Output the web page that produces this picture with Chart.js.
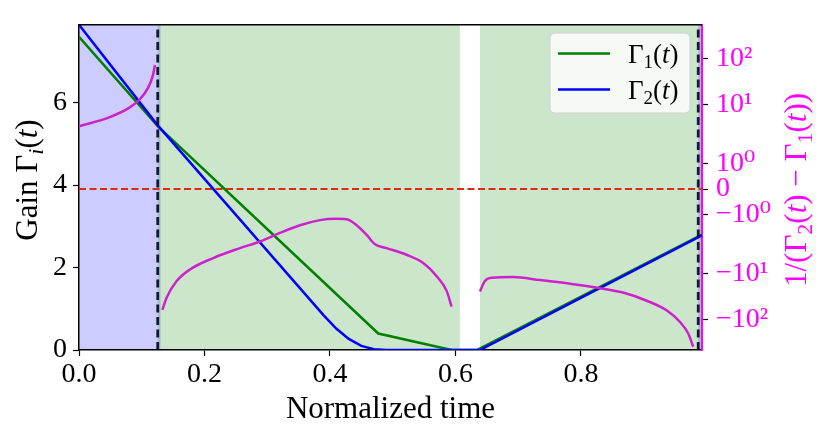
<!DOCTYPE html>
<html>
<head>
<meta charset="utf-8">
<script src="https://cdn.jsdelivr.net/npm/chart.js@4.4.0/dist/chart.umd.min.js"></script>
<style>
  html, body { margin: 0; padding: 0; background: #fff; }
</style>
</head>
<body>
<canvas id="grafico" width="830" height="438"></canvas>
<script>
// ---- datos ----
// Γ1(t)
const t1 = [0, 0.1255, 0.477, 0.594, 0.634, 0.993];
const gamma1 = [7.60, 5.43, 0.40, 0.0, 0.0, 2.80];

// Γ2(t)
const t2 = [0, 0.1255, 0.39, 0.41, 0.43, 0.45, 0.47, 0.49, 0.639, 0.993];
const gamma2 = [7.89, 5.45, 0.84, 0.52, 0.27, 0.10, 0.02, 0.0, 0.0, 2.78];

// 1/(Γ2(t) − Γ1(t)), tres tramos
const tInv1 = [0, 0.049, 0.081, 0.097, 0.110, 0.118, 0.121];
const inv1 = [4.07, 5.92, 8.95, 12.8, 21.7, 41.3, 69.2];
const tInv2 = [0.1328, 0.1398, 0.1557, 0.1769, 0.2140, 0.2566, 0.2884, 0.3203, 0.3522, 0.3841, 0.4080,
               0.4266, 0.4426, 0.4585, 0.4717, 0.4904, 0.5222, 0.5487, 0.5700, 0.5860, 0.5939];
const inv2 = [-58.2, -30.7, -14.1, -8.46, -5.23, -3.51, -2.71, -1.95, -1.47, -1.22, -1.16,
              -1.18, -1.47, -2.11, -3.01, -3.51, -4.57, -6.42, -11.3, -22.3, -49.0];
const tInv3 = [0.639, 0.647, 0.658, 0.692, 0.735, 0.788, 0.830, 0.867, 0.905, 0.937, 0.958, 0.971, 0.979];
const inv3 = [-23.0, -14.1, -12.2, -11.8, -13.5, -16.3, -19.6, -24.2, -36.2, -60.4, -115, -233, -587];

// zonas sombreadas [inicio, fin]
const zonasAzules = [[0, 0.13], [0.987, 0.993]];
const zonasVerdes = [[0.1255, 0.607], [0.639, 0.993]];
// líneas verticales discontinuas
const lineasV = [0.1255, 0.987];

// ejes
const xMax = 0.993;
const yMax = 7.89;
const ticksDerecha = [-100, -10, -1, 0, 1, 10, 100];
const etiquetasDerecha = ['−10²', '−10¹', '−10⁰', '0', '10⁰', '10¹', '10²'];
const y2Min = -755, y2Max = 990;

// textos
const tituloX = 'Normalized time';
const tituloY = [{t: 'Gain Γ'}, {t: 'i', sub: true, it: true}, {t: '('}, {t: 't', it: true}, {t: ')'}];
const tituloY2 = [{t: '1/(Γ'}, {t: '2', sub: true}, {t: '('}, {t: 't', it: true}, {t: ') − Γ'},
                  {t: '1', sub: true}, {t: '('}, {t: 't', it: true}, {t: '))'}];
const leyenda = [
  {color: 'green', partes: [{t: 'Γ'}, {t: '1', sub: true}, {t: '('}, {t: 't', it: true}, {t: ')'}]},
  {color: 'blue', partes: [{t: 'Γ'}, {t: '2', sub: true}, {t: '('}, {t: 't', it: true}, {t: ')'}]}
];

const SERIF = '"Liberation Serif", "DejaVu Serif", serif';
const MAGENTA = '#ff00ff';

// ---- escala "symlog" aproximada (la del eje derecho) ----
function symT(v) {
  const a = Math.abs(v);
  let g;
  if (a <= 1) g = 25.85 * a;
  else { const u = Math.log10(a); g = 25.85 + 65.98 * u - 6.33 * u * u; }
  return v < 0 ? -g : g;
}

class SymLogScale extends Chart.LinearScale {
  determineDataLimits() {
    this.min = this.options.min;
    this.max = this.options.max;
  }
  buildTicks() {
    return ticksDerecha.map(v => ({value: v}));
  }
  getPixelForValue(v) {
    const a = symT(this.min), b = symT(this.max);
    return this.getPixelForDecimal((symT(v) - a) / (b - a));
  }
  getValueForPixel(p) {
    // búsqueda simple
    let lo = this.min, hi = this.max;
    for (let k = 0; k < 60; k++) {
      const m = (lo + hi) / 2;
      if (this.getPixelForValue(m) > p) lo = m; else hi = m;
    }
    return (lo + hi) / 2;
  }
}
SymLogScale.id = 'symlog2';
SymLogScale.defaults = {};
Chart.register(SymLogScale);

// ---- texto con subíndices ----
function fuente(p, size) {
  return (p.it ? 'italic ' : '') + Math.round(p.sub ? size * 0.7 : size) + 'px ' + SERIF;
}
function textoRico(ctx, partes, x, y, size, color, angulo, alinear) {
  ctx.save();
  ctx.translate(x, y);
  ctx.rotate(angulo);
  ctx.fillStyle = color;
  ctx.textBaseline = 'alphabetic';
  ctx.textAlign = 'left';
  let w = 0;
  partes.forEach(p => { ctx.font = fuente(p, size); w += ctx.measureText(p.t).width; });
  let cx = alinear === 'left' ? 0 : -w / 2;
  partes.forEach(p => {
    ctx.font = fuente(p, size);
    ctx.fillText(p.t, cx, p.sub ? size * 0.2 : 0);
    cx += ctx.measureText(p.t).width;
  });
  ctx.restore();
}

// ---- plugin: zonas, marco, títulos y leyenda ----
const adornos = {
  id: 'adornos',
  beforeDraw(chart) {
    const {ctx, chartArea: ca, scales} = chart;
    const xs = scales.x;
    ctx.save();
    const pintar = (zonas, color) => zonas.forEach(z => {
      const a = xs.getPixelForValue(z[0]), b = xs.getPixelForValue(z[1]);
      ctx.fillStyle = color;
      ctx.fillRect(a, ca.top, b - a, ca.bottom - ca.top);
    });
    pintar(zonasAzules, 'rgba(0,0,255,0.2)');
    pintar(zonasVerdes, 'rgba(0,128,0,0.2)');
    ctx.restore();
  },
  afterDraw(chart) {
    const {ctx, chartArea: ca} = chart;
    ctx.save();
    // borde superior
    ctx.strokeStyle = 'black';
    ctx.lineWidth = 1.5;
    ctx.beginPath();
    ctx.moveTo(ca.left, ca.top);
    ctx.lineTo(ca.right, ca.top);
    ctx.stroke();

    // leyenda
    const lx = 550, ly = 33, lw = 140, lh = 80;
    ctx.fillStyle = 'rgba(255,255,255,0.8)';
    ctx.strokeStyle = '#d0d0d0';
    ctx.lineWidth = 1;
    ctx.beginPath();
    ctx.roundRect(lx, ly, lw, lh, 5);
    ctx.fill();
    ctx.stroke();
    leyenda.forEach((item, i) => {
      const yy = 53.5 + i * 36;
      ctx.strokeStyle = item.color;
      ctx.lineWidth = 2.5;
      ctx.beginPath();
      ctx.moveTo(558, yy);
      ctx.lineTo(610, yy);
      ctx.stroke();
      textoRico(ctx, item.partes, 628, yy + 9, 27, 'black', 0, 'left');
    });
    ctx.restore();

    // títulos de ejes
    ctx.save();
    ctx.fillStyle = 'black';
    ctx.font = '31px ' + SERIF;
    ctx.textAlign = 'center';
    ctx.textBaseline = 'alphabetic';
    ctx.fillText(tituloX, (ca.left + ca.right) / 2, 418);
    ctx.restore();
    textoRico(ctx, tituloY, 37, 180, 31, 'black', -Math.PI / 2);
    textoRico(ctx, tituloY2, 806, 190, 31, MAGENTA, -Math.PI / 2);
  }
};

// ---- conjuntos de datos ----
const pares = (xs, ys) => xs.map((x, i) => ({x: x, y: ys[i]}));

const datasets = [
  {label: 'Γ1(t)', data: pares(t1, gamma1), borderColor: 'green', borderWidth: 2.5, order: 5, yAxisID: 'y'},
  {label: 'Γ2(t)', data: pares(t2, gamma2), borderColor: 'blue', borderWidth: 2.5, order: 4, yAxisID: 'y'}
];
[[tInv1, inv1], [tInv2, inv2], [tInv3, inv3]].forEach(([xs, ys]) => {
  datasets.push({
    label: 'inv', data: pares(xs, ys), borderColor: '#cc22cc', borderWidth: 2.5,
    cubicInterpolationMode: 'monotone', order: 3, yAxisID: 'y2'
  });
});
// línea horizontal roja en 0 del eje derecho
datasets.push({
  label: 'cero', data: [{x: 0, y: 0}, {x: xMax, y: 0}], borderColor: '#dc2a14', borderWidth: 1.9,
  borderDash: [7, 3.5], order: 6, yAxisID: 'y2'
});
// verticales discontinuas
lineasV.forEach(xv => {
  datasets.push({
    label: 'v', data: [{x: xv, y: 0}, {x: xv, y: yMax}], borderColor: 'rgba(5,10,35,0.92)', borderWidth: 2.8,
    borderDash: [8, 4.5], order: 1, yAxisID: 'y'
  });
});

const fuenteTicks = {family: SERIF, size: 28};

new Chart(document.getElementById('grafico'), {
  type: 'line',
  data: {datasets: datasets},
  options: {
    responsive: false,
    animation: false,
    events: [],
    parsing: true,
    elements: {point: {radius: 0}, line: {tension: 0, fill: false}},
    layout: {padding: {top: 20, left: 0, right: 0, bottom: 0}},
    plugins: {legend: {display: false}, tooltip: {enabled: false}},
    scales: {
      x: {
        type: 'linear', min: 0, max: xMax,
        afterFit: s => { s.height = 88; },
        ticks: {stepSize: 0.2, includeBounds: false, color: 'black', font: fuenteTicks, padding: 2,
                maxRotation: 0, callback: v => v.toFixed(1)},
        grid: {drawOnChartArea: false, drawTicks: true, tickLength: 6, tickWidth: 1.2, tickColor: 'black'},
        border: {display: true, color: 'black', width: 1.5}
      },
      y: {
        type: 'linear', position: 'left', min: 0, max: yMax,
        afterFit: s => { s.width = 79; },
        ticks: {stepSize: 2, includeBounds: false, color: 'black', font: fuenteTicks, padding: 6},
        grid: {drawOnChartArea: false, drawTicks: true, tickLength: 6, tickWidth: 1.2, tickColor: 'black'},
        border: {display: true, color: 'black', width: 1.5}
      },
      y2: {
        type: 'symlog2', position: 'right', min: y2Min, max: y2Max,
        afterFit: s => { s.width = 128; },
        ticks: {color: MAGENTA, font: fuenteTicks, padding: 8, callback: (v, i) => etiquetasDerecha[i]},
        grid: {drawOnChartArea: false, drawTicks: true, tickLength: 6, tickWidth: 1.2, tickColor: 'black'},
        border: {display: true, color: MAGENTA, width: 2}
      }
    }
  },
  plugins: [adornos]
});
</script>
</body>
</html>
